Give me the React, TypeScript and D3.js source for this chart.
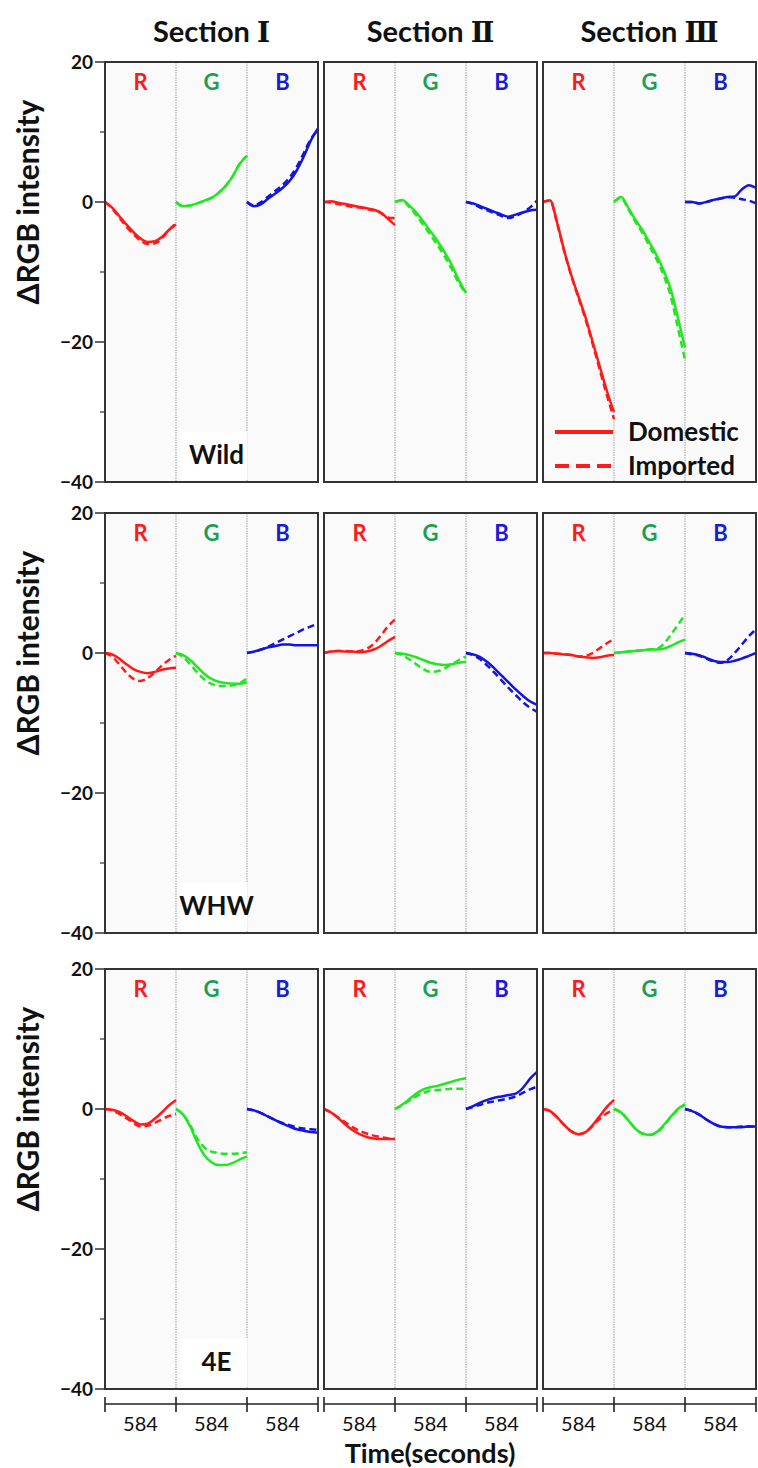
import React from "react";
import * as d3 from "d3";

// ---- data ----
const sections = ["Ⅰ", "Ⅱ", "Ⅲ"];
const channels = ["R", "G", "B"];
const groups = ["Wild", "WHW", "4E"];
const yTicks = [20, 0, -20, -40];
const yMinorTicks = [10, -10, -30];
const timeLabel = "584";

// 9 curves per row: Section I R,G,B / Section II R,G,B / Section III R,G,B
const wildDomestic = [
  [0, -0.8, -2.0, -3.2, -4.3, -5.2, -5.7, -5.6, -5.0, -4.0, -3.2],
  [0, -0.6, -0.5, -0.2, 0.2, 0.6, 1.3, 2.3, 3.7, 5.5, 6.6],
  [0, -0.6, -0.3, 0.5, 1.2, 2.0, 3.0, 4.5, 6.5, 8.8, 10.5],
  [0, 0.1, -0.1, -0.3, -0.5, -0.7, -0.9, -1.1, -1.5, -2.4, -3.3],
  [0, 0.3, -0.5, -1.5, -2.8, -4.2, -5.6, -7.2, -9.0, -11.2, -13.0],
  [0, -0.2, -0.6, -1.0, -1.4, -1.8, -2.1, -1.8, -1.5, -1.2, -1.1],
  [0, 0.2, -3, -7, -10.5, -13.5, -16.5, -20, -23.5, -27, -30],
  [0, 0.7, -0.8, -2.5, -4.0, -5.8, -7.6, -9.8, -12.5, -16.5, -20.8],
  [0, 0, -0.2, 0, 0.3, 0.5, 0.7, 0.8, 1.8, 2.4, 2.0],
];
const wildImported = [
  [0, -0.9, -2.2, -3.5, -4.6, -5.5, -6.0, -5.9, -5.2, -4.0, -3.0],
  [0, -0.6, -0.5, -0.2, 0.2, 0.6, 1.3, 2.3, 3.7, 5.5, 6.6],
  [0, -0.5, 0, 0.8, 1.6, 2.4, 3.5, 5.0, 7.0, 9.0, 10.3],
  [0, -0.1, -0.3, -0.5, -0.7, -0.8, -1.0, -1.2, -1.6, -2.2, -2.3],
  [0, 0.2, -0.7, -1.9, -3.3, -4.7, -6.2, -7.8, -9.6, -11.6, -13.0],
  [0, -0.3, -0.8, -1.2, -1.6, -2.0, -2.3, -2.0, -1.5, -0.8, 0.2],
  [0, 0.2, -3.1, -7.1, -10.6, -13.7, -16.8, -20.3, -24, -27.6, -31],
  [0, 0.6, -1.0, -2.8, -4.4, -6.3, -8.2, -10.5, -13.5, -18, -22.5],
  [0, 0, -0.2, 0, 0.3, 0.5, 0.7, 0.6, 0.4, 0.2, -0.2],
];
const whwDomestic = [
  [0, -0.2, -0.8, -1.6, -2.3, -2.7, -2.9, -2.7, -2.4, -2.2, -2.1],
  [0, -0.3, -1.0, -2.0, -3.0, -3.7, -4.1, -4.3, -4.4, -4.4, -4.2],
  [0, 0.2, 0.5, 0.8, 1.0, 1.2, 1.2, 1.1, 1.1, 1.1, 1.1],
  [0, 0.2, 0.3, 0.2, 0.2, 0.1, 0.2, 0.5, 1.0, 1.7, 2.3],
  [0, -0.1, -0.3, -0.6, -1.0, -1.4, -1.6, -1.7, -1.6, -1.4, -1.3],
  [0, -0.2, -0.6, -1.3, -2.2, -3.2, -4.2, -5.2, -6.1, -6.9, -7.4],
  [0, 0, -0.1, -0.2, -0.3, -0.5, -0.6, -0.7, -0.6, -0.4, -0.3],
  [0, 0.1, 0.2, 0.3, 0.4, 0.5, 0.5, 0.6, 1.0, 1.5, 1.9],
  [0, -0.1, -0.3, -0.7, -1.1, -1.3, -1.3, -1.1, -0.8, -0.4, 0],
];
const whwImported = [
  [0, -0.5, -1.6, -2.8, -3.7, -4.0, -3.6, -2.8, -1.8, -1.0, -0.4],
  [0, -0.6, -1.6, -2.8, -3.8, -4.4, -4.7, -4.7, -4.6, -4.3, -3.6],
  [0, 0.2, 0.5, 0.9, 1.4, 1.9, 2.4, 2.9, 3.4, 3.8, 4.2],
  [0, 0.2, 0.3, 0.3, 0.2, 0.3, 0.6, 1.3, 2.5, 3.8, 4.8],
  [0, -0.3, -0.9, -1.6, -2.3, -2.7, -2.6, -2.2, -1.6, -1.0, -0.5],
  [0, -0.3, -0.9, -1.8, -2.8, -3.9, -5.0, -6.0, -7.0, -7.8, -8.4],
  [0, 0, -0.1, -0.2, -0.3, -0.5, -0.4, 0, 0.7, 1.4, 2.0],
  [0, 0.1, 0.2, 0.3, 0.4, 0.5, 0.6, 1.3, 2.6, 4.0, 5.5],
  [0, -0.2, -0.4, -0.8, -1.2, -1.4, -1.0, 0, 1.2, 2.4, 3.4],
];
const e4Domestic = [
  [0, -0.1, -0.4, -1.0, -1.7, -2.2, -2.1, -1.4, -0.5, 0.5, 1.3],
  [0, -0.8, -2.5, -4.8, -6.6, -7.6, -8.0, -8.0, -7.7, -7.2, -6.8],
  [0, -0.2, -0.6, -1.1, -1.6, -2.1, -2.5, -2.9, -3.1, -3.3, -3.4],
  [0, -0.5, -1.3, -2.2, -3.0, -3.6, -4.0, -4.2, -4.3, -4.3, -4.3],
  [0, 0.6, 1.4, 2.2, 2.8, 3.1, 3.3, 3.6, 3.9, 4.2, 4.4],
  [0, 0.4, 0.9, 1.3, 1.6, 1.8, 2.0, 2.2, 3.0, 4.3, 5.3],
  [0, -0.3, -1.2, -2.3, -3.2, -3.6, -3.3, -2.3, -1.0, 0.3, 1.3],
  [0, -0.5, -1.6, -2.8, -3.5, -3.7, -3.3, -2.3, -1.1, 0, 0.7],
  [0, -0.3, -0.8, -1.5, -2.1, -2.5, -2.6, -2.6, -2.6, -2.5, -2.5],
];
const e4Imported = [
  [0, -0.2, -0.7, -1.3, -2.0, -2.5, -2.4, -2.0, -1.5, -1.0, -0.7],
  [0, -0.8, -2.3, -4.2, -5.5, -6.1, -6.3, -6.4, -6.4, -6.3, -6.2],
  [0, -0.2, -0.6, -1.1, -1.6, -2.0, -2.3, -2.6, -2.8, -2.9, -3.0],
  [0, -0.5, -1.2, -1.9, -2.6, -3.1, -3.5, -3.8, -4.0, -4.2, -4.3],
  [0, 0.5, 1.2, 1.8, 2.3, 2.6, 2.7, 2.8, 2.9, 2.9, 2.9],
  [0, 0.3, 0.6, 0.9, 1.1, 1.3, 1.5, 1.8, 2.3, 2.8, 3.2],
  [0, -0.3, -1.2, -2.3, -3.2, -3.6, -3.3, -2.4, -1.4, -0.6, -0.2],
  [0, -0.5, -1.6, -2.8, -3.5, -3.7, -3.4, -2.4, -1.2, -0.1, 0.6],
  [0, -0.3, -0.8, -1.5, -2.1, -2.5, -2.6, -2.6, -2.5, -2.5, -2.5],
];

const rows = [
  { name: groups[0], domestic: wildDomestic, imported: wildImported },
  { name: groups[1], domestic: whwDomestic, imported: whwImported },
  { name: groups[2], domestic: e4Domestic, imported: e4Imported },
];

// ---- styles ----
const FONT = "Lato, 'Open Sans', sans-serif";
const lineColor: Record<string, string> = { R: "#ff1a1a", G: "#22e622", B: "#1414e0" };
const labelColor: Record<string, string> = { R: "#ff1a1a", G: "#1a9f55", B: "#1a1adb" };

const W = 758;
const H = 1468;
const rowTops = [62, 513, 969];
const panelH = 420;

export default function App() {
  //panels side by side
  const xPanel = d3
    .scaleBand<string>()
    .domain(sections)
    .range([105, 756])
    .paddingInner(0.0274)
    .paddingOuter(0);
  const bw = xPanel.bandwidth();
  const axisY = 1404;

  return (
    <svg
      width={W}
      height={H}
      style={{ position: "absolute", left: 0, top: 0, background: "#fff" }}
      fontFamily={FONT}
    >
      {/* section titles */}
      {sections.map((s) => (
        <text
          key={s}
          x={xPanel(s)! + bw / 2}
          y={42}
          textAnchor="middle"
          fontSize={29}
          fontWeight={700}
          fill="#111"
        >
          Section{"  "}
          <tspan fontFamily="'DejaVu Serif', serif" fontSize={28}>
            {s}
          </tspan>
        </text>
      ))}

      {rows.map((row, r) => {
        const top = rowTops[r];
        const y = d3.scaleLinear().domain([-40, 20]).range([top + panelH, top]);
        return (
          <g key={row.name}>
            {/* y axis title */}
            <text
              transform={`translate(39,${y(0)}) rotate(-90)`}
              textAnchor="middle"
              fontSize={30}
              fontWeight={700}
              fill="#111"
            >
              ΔRGB intensity
            </text>
            {/* y ticks */}
            {yTicks.map((t) => (
              <g key={t}>
                <line x1={95} x2={105} y1={y(t)} y2={y(t)} stroke="#333" strokeWidth={1.5} />
                <text
                  x={93}
                  y={y(t)}
                  dy="0.35em"
                  textAnchor="end"
                  fontSize={19}
                  fontWeight={700}
                  fill="#111"
                >
                  {t < 0 ? `\u2212${Math.abs(t)}` : t}
                </text>
              </g>
            ))}
            {yMinorTicks.map((t) => (
              <line key={t} x1={100} x2={105} y1={y(t)} y2={y(t)} stroke="#333" strokeWidth={1.2} />
            ))}

            {sections.map((s, si) => {
              const x0 = xPanel(s)!;
              const sub = d3.scaleLinear().domain([0, 3]).range([x0, x0 + bw]);
              return (
                <g key={s}>
                  <rect x={x0} y={top} width={bw} height={panelH} fill="#fafafa" />
                  {[1, 2].map((k) => (
                    <line
                      key={k}
                      x1={sub(k)}
                      x2={sub(k)}
                      y1={top}
                      y2={top + panelH}
                      stroke="#8a8a8a"
                      strokeWidth={0.8}
                      strokeDasharray="1.5 1"
                    />
                  ))}
                  {channels.map((c, ci) => (
                    <text
                      key={c}
                      x={sub(ci + 0.5)}
                      y={top + 28}
                      textAnchor="middle"
                      fontSize={22}
                      fontWeight={700}
                      fill={labelColor[c]}
                    >
                      {c}
                    </text>
                  ))}
                  {/* curves */}
                  {channels.map((c, ci) => {
                    const mk = (vals: number[]) =>
                      d3
                        .line<number>()
                        .x((_, i) => sub(ci + i / (vals.length - 1)))
                        .y((d) => y(d))
                        .curve(d3.curveMonotoneX)(vals)!;
                    return (
                      <g key={c}>
                        <path
                          d={mk(row.imported[si * 3 + ci])}
                          fill="none"
                          stroke={lineColor[c]}
                          strokeWidth={2.5}
                          strokeDasharray="7 4"
                        />
                        <path
                          d={mk(row.domestic[si * 3 + ci])}
                          fill="none"
                          stroke={lineColor[c]}
                          strokeWidth={2.5}
                        />
                      </g>
                    );
                  })}
                  <rect
                    x={x0}
                    y={top}
                    width={bw}
                    height={panelH}
                    fill="none"
                    stroke="#333"
                    strokeWidth={2}
                  />
                </g>
              );
            })}

            {/* group label */}
            <rect
              x={xPanel(sections[0])! + bw / 2 - 30}
              y={top + panelH - 50}
              width={66}
              height={48}
              fill="#fff"
            />
            <text
              x={xPanel(sections[0])! + bw / 2 + 5}
              y={top + panelH - 18}
              textAnchor="middle"
              fontSize={26}
              fontWeight={700}
              fill="#111"
            >
              {row.name}
            </text>
          </g>
        );
      })}

      {/* legend */}
      {(() => {
        const x0 = xPanel(sections[2])!;
        return (
          <g>
            <line x1={x0 + 12} x2={x0 + 70} y1={432} y2={432} stroke={lineColor.R} strokeWidth={4} />
            <line
              x1={x0 + 12}
              x2={x0 + 70}
              y1={466}
              y2={466}
              stroke={lineColor.R}
              strokeWidth={4}
              strokeDasharray="14 7"
            />
            <text x={x0 + 85} y={441} fontSize={26} fontWeight={700} fill="#111">
              Domestic
            </text>
            <text x={x0 + 85} y={475} fontSize={26} fontWeight={700} fill="#111">
              Imported
            </text>
          </g>
        );
      })()}

      {/* time axis */}
      {sections.map((s) => {
        const x0 = xPanel(s)!;
        const sub = d3.scaleLinear().domain([0, 3]).range([x0, x0 + bw]);
        return (
          <g key={s}>
            <line x1={x0} x2={x0 + bw} y1={axisY} y2={axisY} stroke="#222" strokeWidth={1.6} />
            {[0, 1, 2, 3].map((k) => (
              <line
                key={k}
                x1={sub(k)}
                x2={sub(k)}
                y1={axisY - 7}
                y2={axisY + 8}
                stroke="#222"
                strokeWidth={1.6}
              />
            ))}
            {channels.map((c, ci) => (
              <text
                key={c}
                x={sub(ci + 0.5)}
                y={axisY + 27}
                textAnchor="middle"
                fontSize={20}
                fill="#111"
              >
                {timeLabel}
              </text>
            ))}
          </g>
        );
      })}
      <text
        x={430}
        y={1463}
        textAnchor="middle"
        fontSize={27}
        fontWeight={700}
        fill="#111"
      >
        Time(seconds)
      </text>
    </svg>
  );
}
